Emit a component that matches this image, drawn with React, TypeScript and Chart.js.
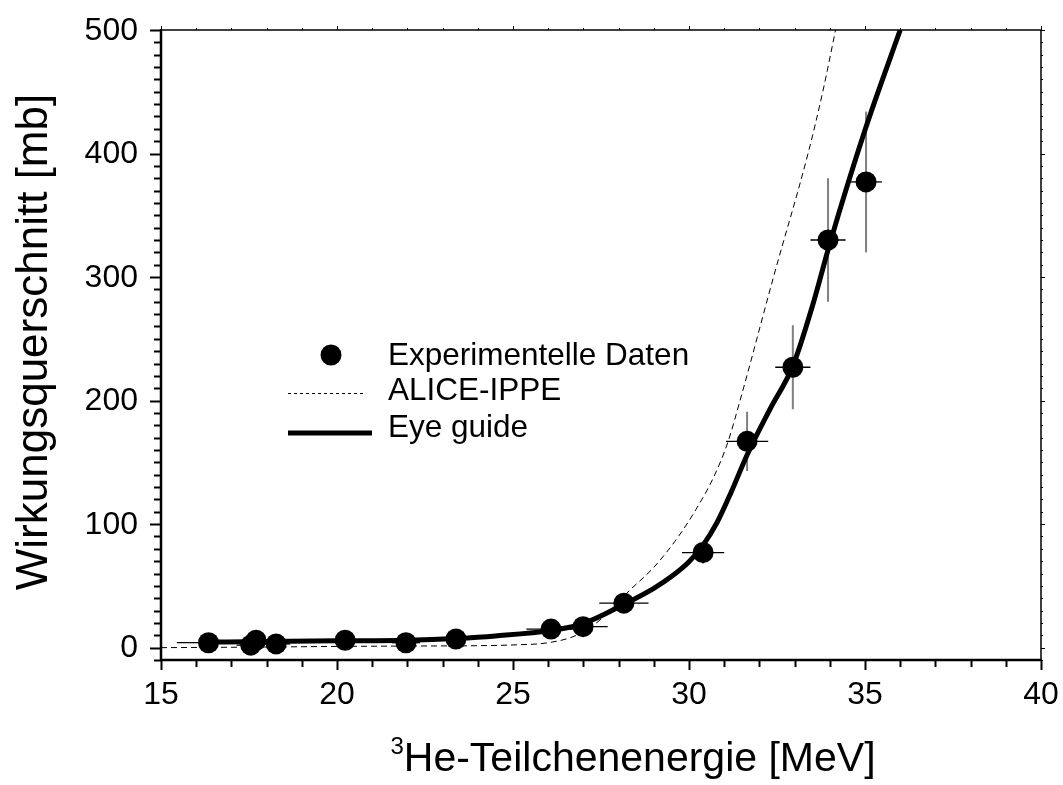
import React, { useEffect, useRef } from "react";
import { Chart, registerables } from "chart.js";

Chart.register(...registerables);

// Measured cross sections (3He energy in MeV, sigma in mb)
const expEnergy = [16.35, 17.55, 17.7, 18.27, 20.23, 21.96, 23.38, 26.08, 26.99, 28.15, 30.4, 31.65, 32.95, 33.95, 35.03];
const expSigma = [4, 2, 6, 3, 6, 4, 7, 15, 17, 36, 77, 167, 227, 330, 377];
const expEnergyErr = [0.9, 0.4, 0.4, 0.4, 0.4, 0.4, 0.4, 0.7, 0.7, 0.7, 0.6, 0.6, 0.5, 0.5, 0.45];
const expSigmaErr = [1, 1, 1, 1, 1, 1, 1, 2, 3, 5, 9, 24, 34, 50, 57];

// ALICE-IPPE model calculation
const aliceEnergy = [15, 18, 20, 22, 24, 25, 26, 26.8, 27.5, 28.3, 29, 29.7, 30.2, 30.7, 31.1, 31.45, 32.4, 33.4, 33.8, 34.2];
const aliceSigma = [0, 0.5, 1, 1.3, 1.6, 2.2, 4, 10, 23, 46, 65, 90, 112, 138, 166, 200, 300, 402, 450, 505];

// Eye guide through the data
const eyeEnergy = [16.3, 18, 20, 22, 23.4, 24.5, 26.1, 27, 28.15, 29, 29.5, 30, 30.4, 30.8, 31.2, 31.65, 32.3, 32.95, 33.5, 34, 35, 36];
const eyeSigma = [4.5, 5, 5.5, 6, 7.5, 9.5, 14, 19.5, 35, 48, 57.5, 69.5, 83, 101.5, 126, 156, 193, 228, 276, 327, 419, 500];

const xTickValues = [15, 20, 25, 30, 35, 40];
const yTickValues = [0, 100, 200, 300, 400, 500];

const xTitleSup = "3";
const xTitleMain = "He-Teilchenenergie [MeV]";
const yTitle = "Wirkungsquerschnitt [mb]";
const legendLabels = ["Experimentelle Daten", "ALICE-IPPE", "Eye guide"];

const FONT = '"Liberation Sans", Arial, Helvetica, sans-serif';
const MARKER_R = 10.5;
const ALICE_DASH = [6, 4];

const toPoints = (xs: number[], ys: number[]) => xs.map((v, i) => ({ x: v, y: ys[i] }));

const decorations = {
  id: "decorations",
  beforeDatasetsDraw(chart: any) {
    const { ctx, chartArea, scales } = chart;
    const x = scales.x;
    const y = scales.y;
    ctx.save();
    ctx.beginPath();
    ctx.rect(chartArea.left, chartArea.top, chartArea.right - chartArea.left, chartArea.bottom - chartArea.top);
    ctx.clip();
    expEnergy.forEach((e, i) => {
      const px = x.getPixelForValue(e);
      const py = y.getPixelForValue(expSigma[i]);
      ctx.strokeStyle = "#808080";
      ctx.lineWidth = 2;
      ctx.beginPath();
      ctx.moveTo(px, y.getPixelForValue(expSigma[i] - expSigmaErr[i]));
      ctx.lineTo(px, y.getPixelForValue(expSigma[i] + expSigmaErr[i]));
      ctx.stroke();
      ctx.strokeStyle = "#000";
      ctx.lineWidth = 1.3;
      ctx.beginPath();
      ctx.moveTo(x.getPixelForValue(e - expEnergyErr[i]), py);
      ctx.lineTo(x.getPixelForValue(e + expEnergyErr[i]), py);
      ctx.stroke();
    });
    ctx.restore();
  },
  afterDraw(chart: any) {
    const { ctx, chartArea, scales } = chart;
    const x = scales.x;
    const y = scales.y;
    const { left, right, top, bottom } = chartArea;
    ctx.save();
    ctx.strokeStyle = "#000";
    ctx.fillStyle = "#000";
    ctx.lineCap = "butt";

    // frame
    ctx.lineWidth = 1.5;
    ctx.beginPath();
    ctx.moveTo(left, top);
    ctx.lineTo(right, top);
    ctx.lineTo(right, bottom);
    ctx.stroke();
    ctx.lineWidth = 2.5;
    ctx.beginPath();
    ctx.moveTo(left, top - 1);
    ctx.lineTo(left, bottom);
    ctx.lineTo(right + 1, bottom);
    ctx.stroke();

    // x ticks: major every 5, minor every 1
    for (let v = x.min; v <= x.max + 1e-9; v += 1) {
      const px = Math.round(x.getPixelForValue(v)) + 0.5;
      const major = Math.abs(v % 5) < 1e-9;
      ctx.lineWidth = 2;
      ctx.beginPath();
      ctx.moveTo(px, bottom);
      ctx.lineTo(px, bottom + (major ? 10 : 7));
      ctx.stroke();
      ctx.lineWidth = 1;
      ctx.beginPath();
      ctx.moveTo(px, top);
      ctx.lineTo(px, top - (major ? 4 : 2));
      ctx.stroke();
    }
    // y ticks: major every 100, minor every 10
    for (let v = y.min; v <= y.max + 1e-9; v += 10) {
      const py = Math.round(y.getPixelForValue(v)) + 0.5;
      const major = Math.abs(v % 100) < 1e-9;
      ctx.lineWidth = 2;
      ctx.beginPath();
      ctx.moveTo(left, py);
      ctx.lineTo(left - (major ? 11 : 7), py);
      ctx.stroke();
      ctx.lineWidth = 1;
      ctx.beginPath();
      ctx.moveTo(right, py);
      ctx.lineTo(right + (major ? 4 : 2), py);
      ctx.stroke();
    }

    // tick labels
    ctx.font = `32px ${FONT}`;
    ctx.textBaseline = "middle";
    ctx.textAlign = "center";
    xTickValues.forEach((v) => ctx.fillText(String(v), x.getPixelForValue(v), bottom + 35));
    ctx.textAlign = "right";
    yTickValues.forEach((v) => ctx.fillText(String(v), left - 23, y.getPixelForValue(v) + 1));

    // axis titles
    ctx.textBaseline = "alphabetic";
    ctx.font = `44px ${FONT}`;
    ctx.save();
    ctx.translate(47, 342);
    ctx.rotate(-Math.PI / 2);
    ctx.textAlign = "center";
    ctx.fillText(yTitle, 0, 0);
    ctx.restore();

    ctx.font = `41px ${FONT}`;
    const mainW = ctx.measureText(xTitleMain).width;
    ctx.font = `24px ${FONT}`;
    const supW = ctx.measureText(xTitleSup).width;
    const startX = 633 - (mainW + supW) / 2;
    const baseY = 771;
    ctx.textAlign = "left";
    ctx.fillText(xTitleSup, startX, baseY - 17);
    ctx.font = `41px ${FONT}`;
    ctx.fillText(xTitleMain, startX + supW, baseY);

    // legend
    const lx0 = 288;
    const lx1 = 370;
    const tx = 388;
    const rows = [355, 393, 433];
    ctx.beginPath();
    ctx.arc((lx0 + lx1) / 2 + 2, rows[0], MARKER_R, 0, Math.PI * 2);
    ctx.fill();
    ctx.lineWidth = 1;
    ctx.setLineDash([3, 3]);
    ctx.beginPath();
    ctx.moveTo(lx0, rows[1] + 0.5);
    ctx.lineTo(lx1 - 4, rows[1] + 0.5);
    ctx.stroke();
    ctx.setLineDash([]);
    ctx.lineWidth = 5;
    ctx.beginPath();
    ctx.moveTo(lx0, rows[2]);
    ctx.lineTo(lx1 + 2, rows[2]);
    ctx.stroke();
    ctx.font = `31.5px ${FONT}`;
    ctx.textBaseline = "middle";
    ctx.fillText(legendLabels[0], tx, rows[0] + 1);
    ctx.fillText(legendLabels[1], tx, rows[1] - 2);
    ctx.fillText(legendLabels[2], tx, rows[2] - 5);
    ctx.restore();
  },
};

export default function App() {
  const canvasRef = useRef<HTMLCanvasElement | null>(null);

  useEffect(() => {
    const canvas = canvasRef.current;
    if (!canvas) return;
    const chart = new Chart(canvas, {
      type: "scatter",
      data: {
        datasets: [
          {
            label: legendLabels[0],
            data: toPoints(expEnergy, expSigma),
            showLine: false,
            pointRadius: MARKER_R,
            pointBackgroundColor: "#000",
            pointBorderColor: "#000",
            pointBorderWidth: 0,
          },
          {
            label: legendLabels[2],
            data: toPoints(eyeEnergy, eyeSigma),
            showLine: true,
            borderColor: "#000",
            borderWidth: 5,
            pointRadius: 0,
            cubicInterpolationMode: "monotone",
          },
          {
            label: legendLabels[1],
            data: toPoints(aliceEnergy, aliceSigma),
            showLine: true,
            borderColor: "#000",
            borderWidth: 1,
            borderDash: ALICE_DASH,
            pointRadius: 0,
            cubicInterpolationMode: "monotone",
          },
        ],
      },
      options: {
        animation: false,
        responsive: false,
        devicePixelRatio: 1,
        events: [],
        layout: { padding: { left: 0, top: 30, right: 22, bottom: 0 } },
        plugins: { legend: { display: false }, tooltip: { enabled: false } },
        scales: {
          x: {
            type: "linear",
            min: 15,
            max: 40,
            grid: { display: false, drawTicks: false },
            border: { display: false },
            ticks: { display: false },
            afterBuildTicks: (s: any) => {
              s.ticks = xTickValues.map((v) => ({ value: v }));
            },
            afterFit: (s: any) => {
              s.height = 125;
            },
          },
          y: {
            type: "linear",
            min: -10,
            max: 500,
            grid: { display: false, drawTicks: false },
            border: { display: false },
            ticks: { display: false },
            afterBuildTicks: (s: any) => {
              s.ticks = yTickValues.map((v) => ({ value: v }));
            },
            afterFit: (s: any) => {
              s.width = 161;
            },
          },
        },
      },
      plugins: [decorations],
    });
    return () => chart.destroy();
  }, []);

  return (
    <div style={{ position: "fixed", left: 0, top: 0, width: 1063, height: 785, background: "#fff" }}>
      <canvas ref={canvasRef} width={1063} height={785} style={{ display: "block" }} />
    </div>
  );
}
